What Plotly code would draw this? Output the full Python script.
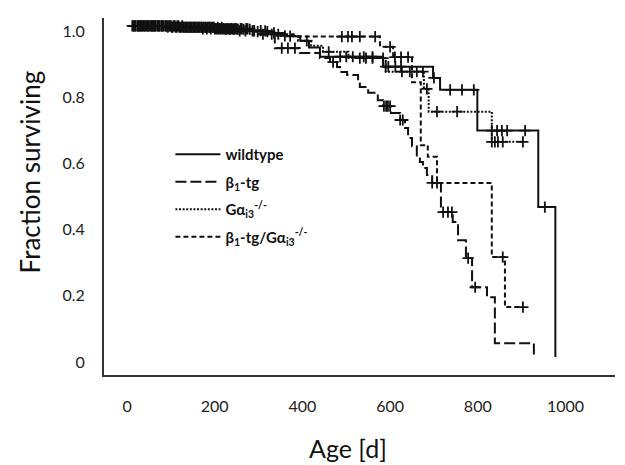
import plotly.graph_objects as go

# ---------------- data ----------------
# Kaplan-Meier step points: day at which the curve steps, survival after the step
wt_days = [10, 120, 200, 280, 320, 360, 395, 415, 440, 584, 698, 714, 799, 938, 977]
wt_surv = [1.0, 0.996, 0.991, 0.986, 0.979, 0.969, 0.955, 0.935, 0.907, 0.877, 0.843, 0.807, 0.684, 0.453, 0.0]
wt_cens = [18, 27, 35, 44, 53, 61, 70, 79, 88, 97, 106, 115, 124, 133, 142, 151, 160, 169,
           178, 187, 196, 205, 214, 223, 232, 241, 250, 262, 275, 290, 305, 335, 372,
           486, 500, 515, 540, 560, 590, 596, 612, 625, 700, 737, 764, 791,
           832, 844, 855, 867, 908, 953]

b1_days = [10, 90, 170, 250, 300, 337, 394, 440, 463, 479, 486, 502, 527, 531, 550, 572,
           584, 602, 623, 634, 641, 650, 661, 668, 675, 684, 696, 716, 743, 755, 773, 787,
           821, 839, 928]
b1_surv = [1.0, 0.996, 0.991, 0.985, 0.975, 0.933, 0.918, 0.903, 0.891, 0.876, 0.861, 0.852,
           0.831, 0.816, 0.798, 0.776, 0.758, 0.737, 0.716, 0.692, 0.662, 0.637, 0.604, 0.589,
           0.571, 0.550, 0.526, 0.438, 0.408, 0.353, 0.299, 0.211, 0.181, 0.042, 0.0]
b1_cens = [14, 24, 33, 41, 50, 58, 66, 75, 84, 93, 102, 111, 119, 128, 137, 146, 155, 164,
           173, 182, 191, 200, 209, 218, 227, 236, 245, 257, 270, 286, 310, 330,
           353, 367, 383, 470, 586, 591, 595, 600, 623, 629, 696, 721, 732, 741, 778, 794]

gi_days = [10, 130, 220, 290, 340, 390, 420, 447, 505, 590, 677, 688, 832, 903]
gi_surv = [1.0, 0.996, 0.99, 0.983, 0.97, 0.955, 0.94, 0.922, 0.903, 0.862, 0.81, 0.741, 0.65, 0.65]
gi_cens = [12, 20, 29, 37, 47, 56, 64, 73, 81, 92, 100, 109, 117, 126, 135, 144, 153, 162,
           171, 180, 189, 198, 207, 216, 225, 234, 243, 253, 266, 280, 298, 320, 360, 410,
           460, 531, 545, 560, 584, 627, 645, 661, 675, 684, 707, 753, 832, 839, 846, 857, 903]

dk_days = [10, 100, 200, 280, 330, 380, 577, 607, 650, 670, 686, 707, 832, 862, 903]
dk_surv = [1.0, 0.996, 0.992, 0.985, 0.975, 0.968, 0.937, 0.906, 0.830, 0.640, 0.605, 0.526,
           0.302, 0.151, 0.151]
dk_cens = [16, 25, 31, 40, 48, 57, 62, 71, 80, 89, 96, 104, 113, 121, 130, 139, 148, 157,
           166, 175, 184, 193, 202, 211, 220, 229, 238, 247, 259, 272, 290, 315, 345,
           490, 504, 513, 531, 566, 600, 611, 625, 641, 707, 857, 903]

group_names = ["<b>wildtype</b>",
               "<b>β<sub>1</sub>-tg</b>",
               "<b>Gα<sub>i3</sub><sup>-/-</sup></b>",
               "<b>β<sub>1</sub>-tg/Gα<sub>i3</sub><sup>-/-</sup></b>"]

x_ticks = [0, 200, 400, 600, 800, 1000]
y_ticks = [0, 0.2, 0.4, 0.6, 0.8, 1.0]
y_ticktext = ["0", "0.2", "0.4", "0.6", "0.8", "1.0"]

# ---------------- helpers ----------------
def surv_at(days, surv, t):
    s = surv[0]
    for d, v in zip(days, surv):
        if d <= t:
            s = v
        else:
            break
    return s

groups = [
    (wt_days, wt_surv, wt_cens, "solid"),
    (b1_days, b1_surv, b1_cens, "11px,4px"),
    (gi_days, gi_surv, gi_cens, "2px,1.6px"),
    (dk_days, dk_surv, dk_cens, "5px,3px"),
]

FONT = "Lato, 'Open Sans', sans-serif"
INK = "#111111"

fig = go.Figure()
for i, (days, surv, cens, dash) in enumerate(groups):
    fig.add_trace(go.Scatter(
        x=days, y=surv, mode="lines", line_shape="hv",
        line=dict(color=INK, width=2, dash=dash),
        name=group_names[i], legendgroup=f"g{i}", showlegend=True,
        hoverinfo="skip"))
for i, (days, surv, cens, dash) in enumerate(groups):
    fig.add_trace(go.Scatter(
        x=cens, y=[surv_at(days, surv, t) for t in cens], mode="markers",
        marker=dict(symbol="cross-thin", size=8, color=INK,
                    line=dict(color=INK, width=1.8)),
        legendgroup=f"g{i}", showlegend=False, hoverinfo="skip"))

# The page body adds an 8px offset, so the figure is 8px smaller than the window.
fig.update_layout(
    width=617, height=457,
    margin=dict(l=96, r=10, t=10, b=90, autoexpand=False),
    paper_bgcolor="white", plot_bgcolor="white",
    font=dict(family=FONT, color=INK),
    showlegend=True,
    legend=dict(x=0.13, y=0.664, xanchor="left", yanchor="top",
                bgcolor="rgba(0,0,0,0)", font=dict(size=15, family=FONT, color=INK),
                itemwidth=45, tracegroupgap=5, traceorder="grouped"),
    xaxis=dict(range=[-52.5, 1113], showline=True, linecolor="#333333", linewidth=2,
               ticks="", tickvals=x_ticks, ticklabelstandoff=16, automargin=False,
               tickfont=dict(size=16, family=FONT, color="#222222"),
               showgrid=False, zeroline=False),
    yaxis=dict(range=[-0.054, 1.024], showline=True, linecolor="#333333", linewidth=2,
               ticks="", tickvals=y_ticks, ticktext=y_ticktext, automargin=False,
               ticklabelstandoff=14, ticklabelshift=5,
               tickfont=dict(size=16, family=FONT, color="#222222"),
               showgrid=False, zeroline=False),
    annotations=[
        dict(text="Fraction surviving", x=-0.145, y=0.57, xref="paper", yref="paper",
             textangle=-90, showarrow=False, xanchor="center", yanchor="middle",
             font=dict(size=26, family=FONT, color=INK)),
        dict(text="Age [d]", x=0.4775, y=-0.205, xref="paper", yref="paper",
             showarrow=False, xanchor="center", yanchor="middle",
             font=dict(size=25, family=FONT, color=INK)),
    ],
)

fig.write_html("out.html")
